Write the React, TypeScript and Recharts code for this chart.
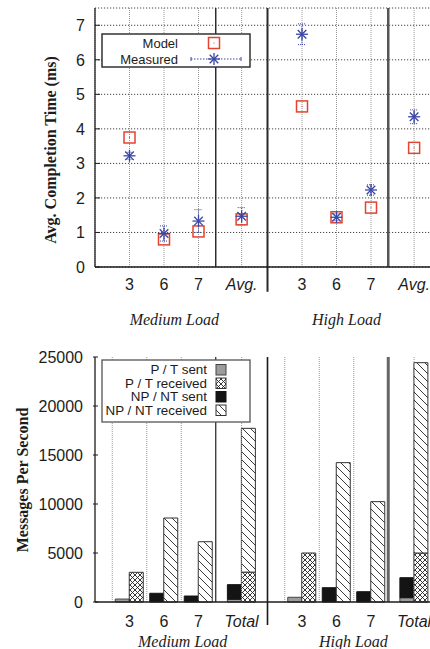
import {
  ComposedChart,
  Scatter,
  Bar,
  XAxis,
  YAxis,
  CartesianGrid,
  ReferenceLine,
  ErrorBar,
} from "recharts";

const SANS = '"Liberation Sans", Arial, Helvetica, sans-serif';
const SERIF = '"Liberation Serif", "Times New Roman", Times, serif';
const RED = "#e3432f";
const BLUE = "#3a47a6";
const INK = "#1c1c1c";

// categories sit on a 0..10 unit x axis (two load groups, gap for Avg./Total)
const CATEGORY_X = [1, 2, 3, 4.25, 6, 7, 8, 9.25];
const GROUPS = ["Medium Load", "High Load"];
const SEPARATORS = [3.5, 5, 8.5];

// top chart: completion time (ms)
const TIME_LABELS = ["3", "6", "7", "Avg.", "3", "6", "7", "Avg."];
const MODEL_MS = [3.75, 0.8, 1.03, 1.38, 4.65, 1.44, 1.72, 3.45];
const MEASURED_MS = [3.22, 0.97, 1.33, 1.47, 6.74, 1.44, 2.23, 4.35];
const MEASURED_ERR = [0.1, 0.22, 0.33, 0.25, 0.3, 0.1, 0.15, 0.2];
const TIME_TICKS = [0, 1, 2, 3, 4, 5, 6, 7];
const TIME_GROUP_X = [2.3, 7.29];

// bottom chart: messages per second
const MSG_LABELS = ["3", "6", "7", "Total", "3", "6", "7", "Total"];
const PT_SENT = [300, 0, 0, 280, 480, 0, 0, 440];
const PT_RECEIVED = [3030, 0, 0, 3050, 5000, 0, 0, 5000];
const NP_SENT = [0, 890, 610, 1490, 0, 1460, 1050, 2040];
const NP_RECEIVED = [0, 8570, 6150, 14670, 0, 14220, 10240, 19420];
const MSG_TICKS = [0, 5000, 10000, 15000, 20000, 25000];
const MSG_GROUP_X = [2.54, 7.49];
const MSG_GRID_X = [0.5, 1.5, 2.5, 4.25, 5.5, 6.5, 7.5, 9.25];
const MSG_TOP_TICKS = [0.5, 1, 1.5, 2, 2.5, 3, 4.25, 5.5, 6, 6.5, 7, 7.5, 8, 9.25];

const timeData = CATEGORY_X.map((x, i) => ({
  x,
  model: MODEL_MS[i],
  measured: MEASURED_MS[i],
  err: MEASURED_ERR[i],
}));

const msgData = CATEGORY_X.map((x, i) => ({
  x,
  ptSent: PT_SENT[i],
  npSent: NP_SENT[i],
  ptRecv: PT_RECEIVED[i],
  npRecv: NP_RECEIVED[i],
}));

function YTick({ x, y, payload }: any) {
  return (
    <g>
      <line x1={x + 10} x2={x + 15} y1={y} y2={y} stroke={INK} />
      <text x={x} y={y} dy={6} textAnchor="end" fontSize={16} fontFamily={SANS} fill={INK}>
        {payload.value}
      </text>
    </g>
  );
}

function CatTick({ x, y, payload, labels, dy }: any) {
  const label = labels[CATEGORY_X.indexOf(payload.value)] ?? "";
  const italic = isNaN(Number(label));
  return (
    <text
      x={x}
      y={y + dy}
      textAnchor="middle"
      fontSize={16}
      fontFamily={SANS}
      fontStyle={italic ? "italic" : "normal"}
      fill={INK}
    >
      {label}
    </text>
  );
}

function GroupTick({ x, y, payload, positions, dy }: any) {
  return (
    <text x={x} y={y + dy} textAnchor="middle" fontSize={16} fontFamily={SERIF} fontStyle="italic" fill={INK}>
      {GROUPS[positions.indexOf(payload.value)]}
    </text>
  );
}

function TopTick({ x, y }: any) {
  return <line x1={x} x2={x} y1={y} y2={y + 4} stroke={INK} />;
}

function AxisTitle({ viewBox, text, dx, shift }: any) {
  const cx = viewBox.x + dx;
  const cy = viewBox.y + viewBox.height / 2 + shift;
  return (
    <text
      x={cx}
      y={cy}
      transform={`rotate(-90, ${cx}, ${cy})`}
      textAnchor="middle"
      dominantBaseline="central"
      fontSize={16}
      fontWeight="bold"
      fontFamily={SERIF}
      fill={INK}
    >
      {text}
    </text>
  );
}

function ModelSquare({ cx, cy }: any) {
  return (
    <g>
      <rect x={cx - 5.5} y={cy - 5.5} width={11} height={11} fill="none" stroke={RED} strokeWidth={1.5} />
      <rect x={cx - 0.5} y={cy - 0.5} width={1} height={1} fill={RED} />
    </g>
  );
}

function Star({ cx, cy }: any) {
  const r = 6;
  const d = 4.3;
  return (
    <g stroke={BLUE} strokeWidth={1.3}>
      <line x1={cx - r} y1={cy} x2={cx + r} y2={cy} />
      <line x1={cx} y1={cy - r} x2={cx} y2={cy + r} />
      <line x1={cx - d} y1={cy - d} x2={cx + d} y2={cy + d} />
      <line x1={cx - d} y1={cy + d} x2={cx + d} y2={cy - d} />
    </g>
  );
}

function TimeLegend() {
  return (
    <svg width={150} height={35} style={{ position: "absolute", left: 101, top: 33 }}>
      <rect x={1} y={1} width={148} height={33} fill="#fff" stroke="#333" strokeWidth={1.5} />
      <text x={77} y={15} textAnchor="end" fontSize={13} fontFamily={SANS} fill={INK}>
        Model
      </text>
      <text x={77} y={31} textAnchor="end" fontSize={13} fontFamily={SANS} fill={INK}>
        Measured
      </text>
      <ModelSquare cx={113} cy={10} />
      <line x1={90} x2={140} y1={26} y2={26} stroke={BLUE} strokeDasharray="1.5 1.5" />
      <line x1={90} x2={90} y1={24} y2={28} stroke={BLUE} />
      <line x1={140} x2={140} y1={24} y2={28} stroke={BLUE} />
      <Star cx={113} cy={26} />
    </svg>
  );
}

const MSG_LEGEND = [
  { label: "P / T sent", fill: "#9c9c9c", stroke: "#444" },
  { label: "P / T received", fill: "url(#xhatch)", stroke: "#333" },
  { label: "NP / NT sent", fill: "#141414", stroke: "#141414" },
  { label: "NP / NT received", fill: "url(#dhatch)", stroke: "#333" },
];

function MsgLegend() {
  return (
    <svg width={150} height={64} style={{ position: "absolute", left: 101, top: 359 }}>
      <rect x={1} y={1} width={148} height={62} fill="#fff" stroke="#555" strokeWidth={1.3} />
      {MSG_LEGEND.map((e, i) => (
        <g key={e.label}>
          <text x={106} y={15 + i * 13.5} textAnchor="end" fontSize={13.4} fontFamily={SANS} fill={INK}>
            {e.label}
          </text>
          <rect x={115} y={5.5 + i * 13.5} width={10} height={10.5} fill={e.fill} stroke={e.stroke} />
        </g>
      ))}
    </svg>
  );
}

function TimeChart() {
  return (
    <ComposedChart width={450} height={330} data={timeData} margin={{ top: 8, right: 10, bottom: 3, left: 0 }}>
      <CartesianGrid horizontal vertical={false} stroke="#444" strokeDasharray="1.2 1.8" />
      <CartesianGrid horizontal={false} vertical stroke="#999" strokeDasharray="1 1" />
      <XAxis
        dataKey="x"
        type="number"
        domain={[0, 10]}
        ticks={CATEGORY_X}
        stroke={INK}
        strokeWidth={1.3}
        tickLine={false}
        tickSize={0}
        height={30}
        tick={(p: any) => <CatTick {...p} labels={TIME_LABELS} dy={21} />}
      />
      <XAxis
        xAxisId="grp"
        dataKey="x"
        type="number"
        domain={[0, 10]}
        ticks={TIME_GROUP_X}
        axisLine={false}
        tickLine={false}
        tickSize={0}
        height={30}
        tick={(p: any) => <GroupTick {...p} positions={TIME_GROUP_X} dy={26} />}
      />
      <XAxis
        xAxisId="top"
        orientation="top"
        dataKey="x"
        type="number"
        domain={[0, 10]}
        ticks={CATEGORY_X}
        stroke={INK}
        strokeWidth={1.3}
        tickLine={false}
        tickSize={0}
        height={0}
        tick={(p: any) => <TopTick {...p} />}
      />
      <YAxis
        type="number"
        domain={[0, 7.5]}
        ticks={TIME_TICKS}
        width={95}
        stroke={INK}
        strokeWidth={1.3}
        tickLine={false}
        tickSize={0}
        tickMargin={10}
        tick={(p: any) => <YTick {...p} />}
        label={(p: any) => <AxisTitle viewBox={p.viewBox} text="Avg. Completion Time (ms)" dx={50} shift={12.5} />}
      />
      <ReferenceLine x={SEPARATORS[0]} stroke="#222" strokeWidth={1.4} />
      <ReferenceLine
        segment={[
          { x: SEPARATORS[1], y: -0.72 },
          { x: SEPARATORS[1], y: 7.5 },
        ]}
        ifOverflow="visible"
        stroke="#2a2a2a"
        strokeWidth={2}
      />
      <ReferenceLine x={SEPARATORS[2]} stroke="#555" strokeWidth={2.5} />
      <Scatter dataKey="model" isAnimationActive={false} shape={(p: any) => <ModelSquare {...p} />} />
      <Scatter dataKey="measured" isAnimationActive={false} shape={(p: any) => <Star {...p} />}>
        <ErrorBar dataKey="err" direction="y" width={4} stroke={BLUE} strokeWidth={1} strokeDasharray="1 1" />
      </Scatter>
    </ComposedChart>
  );
}

function MsgChart() {
  return (
    <ComposedChart
      width={450}
      height={319}
      data={msgData}
      barGap={0}
      barSize={14}
      margin={{ top: 27, right: 10, bottom: 0, left: 0 }}
    >
      {MSG_GRID_X.map((x) => (
        <ReferenceLine key={x} x={x} stroke="#999" strokeDasharray="1 1" />
      ))}
      <XAxis
        dataKey="x"
        type="number"
        domain={[0, 10]}
        ticks={CATEGORY_X}
        stroke={INK}
        strokeWidth={1.3}
        tickLine={false}
        tickSize={0}
        height={30}
        tick={(p: any) => <CatTick {...p} labels={MSG_LABELS} dy={23} />}
      />
      <XAxis
        xAxisId="grp"
        dataKey="x"
        type="number"
        domain={[0, 10]}
        ticks={MSG_GROUP_X}
        axisLine={false}
        tickLine={false}
        tickSize={0}
        height={17}
        tick={(p: any) => <GroupTick {...p} positions={MSG_GROUP_X} dy={13} />}
      />
      <XAxis
        xAxisId="top"
        orientation="top"
        dataKey="x"
        type="number"
        domain={[0, 10]}
        ticks={MSG_TOP_TICKS}
        stroke={INK}
        strokeWidth={1.3}
        tickLine={false}
        tickSize={0}
        height={0}
        tick={(p: any) => <TopTick {...p} />}
      />
      <YAxis
        type="number"
        domain={[0, 25000]}
        ticks={MSG_TICKS}
        width={95}
        stroke={INK}
        strokeWidth={1.3}
        tickLine={false}
        tickSize={0}
        tickMargin={12}
        tick={(p: any) => <YTick {...p} />}
        label={(p: any) => <AxisTitle viewBox={p.viewBox} text="Messages Per Second" dx={22} shift={0.5} />}
      />
      <Bar dataKey="ptSent" stackId="sent" fill="#9c9c9c" stroke="#444" isAnimationActive={false} />
      <Bar dataKey="npSent" stackId="sent" fill="#141414" stroke="#141414" isAnimationActive={false} />
      <Bar dataKey="ptRecv" stackId="recv" fill="url(#xhatch)" stroke="#333" isAnimationActive={false} />
      <Bar dataKey="npRecv" stackId="recv" fill="url(#dhatch)" stroke="#333" isAnimationActive={false} />
      <ReferenceLine x={SEPARATORS[0]} stroke="#222" strokeWidth={1.2} />
      <ReferenceLine
        segment={[
          { x: SEPARATORS[1], y: -2350 },
          { x: SEPARATORS[1], y: 25000 },
        ]}
        ifOverflow="visible"
        stroke="#1a1a1a"
        strokeWidth={1.6}
      />
      <ReferenceLine x={SEPARATORS[2]} stroke="#666" strokeWidth={3} />
    </ComposedChart>
  );
}

export default function App() {
  return (
    <div
      style={{
        position: "absolute",
        left: 0,
        top: 0,
        width: 430,
        height: 649,
        overflow: "hidden",
        background: "#fff",
      }}
    >
      <svg width={0} height={0} style={{ position: "absolute" }}>
        <defs>
          <pattern id="xhatch" width={5} height={5} patternUnits="userSpaceOnUse">
            <rect width={5} height={5} fill="#fff" />
            <path d="M0,0 L5,5 M5,0 L0,5" stroke="#222" strokeWidth={0.9} />
          </pattern>
          <pattern id="dhatch" width={8} height={8} patternUnits="userSpaceOnUse">
            <rect width={8} height={8} fill="#fff" />
            <path d="M0,0 L8,8 M-1,7 L1,9 M7,-1 L9,1" stroke="#222" strokeWidth={0.9} />
          </pattern>
        </defs>
      </svg>
      <div style={{ position: "absolute", left: 0, top: 0 }}>
        <TimeChart />
      </div>
      <div style={{ position: "absolute", left: 0, top: 330 }}>
        <MsgChart />
      </div>
      <TimeLegend />
      <MsgLegend />
    </div>
  );
}
